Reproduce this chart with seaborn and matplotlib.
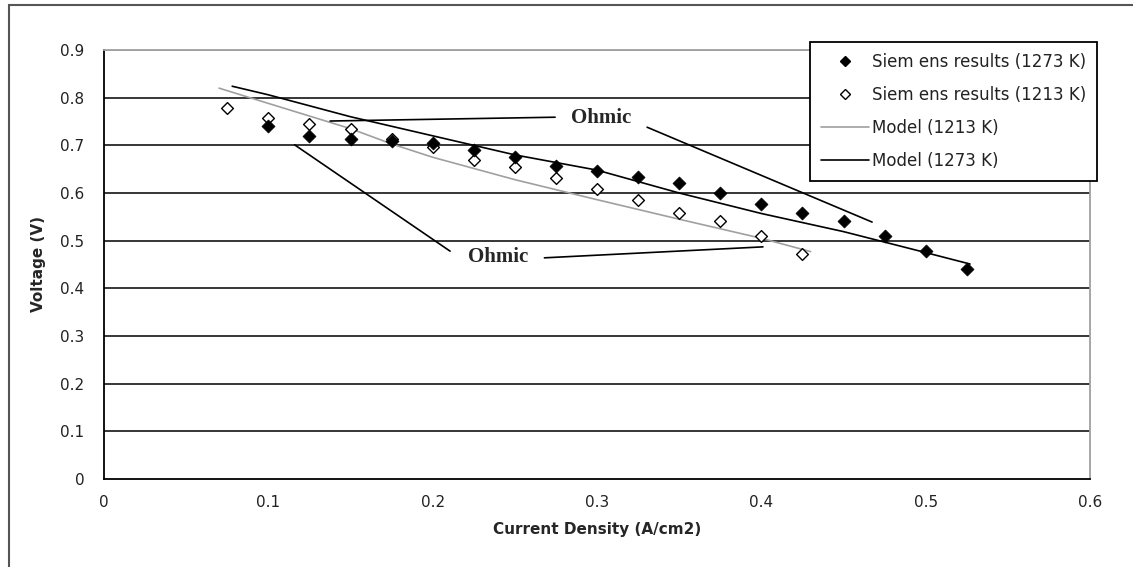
import matplotlib
matplotlib.use("Agg")
import matplotlib.pyplot as plt
import seaborn as sns
import pandas as pd
from matplotlib.patches import Rectangle
from matplotlib.lines import Line2D

# ---- data ----
x_1273 = [0.1, 0.125, 0.15, 0.175, 0.2, 0.225, 0.25, 0.275, 0.3, 0.325, 0.35,
          0.375, 0.4, 0.425, 0.45, 0.475, 0.5, 0.525]
v_1273 = [0.74, 0.72, 0.713, 0.71, 0.705, 0.69, 0.675, 0.657, 0.646, 0.634, 0.621,
          0.60, 0.577, 0.558, 0.541, 0.51, 0.478, 0.44]
x_1213 = [0.075, 0.1, 0.125, 0.15, 0.175, 0.2, 0.225, 0.25, 0.275, 0.3, 0.325,
          0.35, 0.375, 0.4, 0.425]
v_1213 = [0.778, 0.757, 0.745, 0.734, 0.713, 0.697, 0.669, 0.655, 0.632, 0.608,
          0.585, 0.558, 0.541, 0.51, 0.472]
xm_1213 = [0.07, 0.1, 0.15, 0.175, 0.2, 0.25, 0.3, 0.35, 0.4, 0.43]
vm_1213 = [0.82, 0.788, 0.735, 0.703, 0.675, 0.628, 0.586, 0.545, 0.505, 0.477]
xm_1273 = [0.078, 0.1, 0.15, 0.2, 0.25, 0.3, 0.35, 0.4, 0.45, 0.5, 0.527]
vm_1273 = [0.824, 0.806, 0.76, 0.72, 0.68, 0.648, 0.6, 0.557, 0.519, 0.475, 0.451]
x_ticks = [0, 0.1, 0.2, 0.3, 0.4, 0.5, 0.6]
y_ticks = [0, 0.1, 0.2, 0.3, 0.4, 0.5, 0.6, 0.7, 0.8, 0.9]
labels = ["Siem ens results (1273 K)", "Siem ens results (1213 K)",
          "Model (1213 K)", "Model (1273 K)"]

sns.set_style("white")
plt.rcParams['font.family'] = ['DejaVu Sans']

fig = plt.figure(figsize=(11.33, 5.67), dpi=100)
ax = fig.add_axes([104/1133, 1-479/567, (1090-104)/1133, (479-50)/567])

df_a = pd.DataFrame({"x": x_1273, "v": v_1273})
df_b = pd.DataFrame({"x": x_1213, "v": v_1213})
df_c = pd.DataFrame({"x": xm_1213, "v": vm_1213})
df_d = pd.DataFrame({"x": xm_1273, "v": vm_1273})

for yv in y_ticks[1:-1]:
    ax.axhline(yv, color="black", lw=1.1, zorder=0)
ax.axhline(0.9, color="#a0a0a0", lw=1.3, zorder=0)

sns.lineplot(data=df_c, x="x", y="v", ax=ax, color="#a0a0a0", lw=1.2, zorder=2)
sns.lineplot(data=df_d, x="x", y="v", ax=ax, color="black", lw=1.2, zorder=2)
sns.scatterplot(data=df_b, x="x", y="v", ax=ax, marker="D", s=36,
                facecolor="white", edgecolor="black", linewidth=1.0, zorder=3)
sns.scatterplot(data=df_a, x="x", y="v", ax=ax, marker="D", s=44,
                color="black", edgecolor="black", linewidth=0.5, zorder=4)

ax.set_xlim(0, 0.6)
ax.set_ylim(0, 0.9)
ax.set_xticks(x_ticks)
ax.set_xticklabels([f"{t:g}" for t in x_ticks])
ax.set_yticks(y_ticks)
ax.set_yticklabels([f"{t:g}" for t in y_ticks])
ax.tick_params(axis="x", direction="inout", length=7, width=1.1, pad=8, labelsize=11,
               labelcolor="#222222")
ax.tick_params(axis="y", direction="out", length=6, width=1.1, pad=8, labelsize=11,
               labelcolor="#222222")
for s in ["left", "bottom"]:
    ax.spines[s].set_color("black")
    ax.spines[s].set_linewidth(1.3)
for s in ["top", "right"]:
    ax.spines[s].set_color("#a0a0a0")
    ax.spines[s].set_linewidth(1.3)
ax.set_xlabel("Current Density (A/cm2)", fontsize=11, fontweight="bold", labelpad=9)
ax.set_ylabel("Voltage (V)", fontsize=11, fontweight="bold", labelpad=10)

# Ohmic annotations
tfont = dict(family=["Liberation Serif", "DejaVu Serif"], fontsize=15, fontweight="bold")
ax.text(0.3025, 0.757, "Ohmic", ha="center", va="center", **tfont)
ax.text(0.240, 0.466, "Ohmic", ha="center", va="center", **tfont)
ax.plot([0.1376, 0.2745], [0.751, 0.759], color="black", lw=1.2, zorder=2)
ax.plot([0.3305, 0.4674], [0.738, 0.539], color="black", lw=1.2, zorder=2)
ax.plot([0.116, 0.2106], [0.701, 0.478], color="black", lw=1.2, zorder=2)
ax.plot([0.268, 0.401], [0.464, 0.487], color="black", lw=1.2, zorder=2)

handles = [
    Line2D([], [], ls="none", marker="D", color="black", markersize=5.5),
    Line2D([], [], ls="none", marker="D", markerfacecolor="white",
           markeredgecolor="black", markersize=5.5),
    Line2D([], [], color="#a0a0a0", lw=1.2),
    Line2D([], [], color="black", lw=1.2),
]
leg = ax.legend(handles, labels, loc="upper right", bbox_to_anchor=(1097/1133, 1-42/567),
                bbox_transform=fig.transFigure, fontsize=12, frameon=True, fancybox=False,
                edgecolor="black", framealpha=1, borderpad=0.65, labelspacing=0.9,
                handlelength=2.9, handletextpad=0.15, borderaxespad=0)
leg.get_frame().set_linewidth(1.3)
for t in leg.get_texts():
    t.set_color("#222222")

# outer figure frame (cut off at right/bottom)
fig.patches.append(Rectangle((9/1133, -0.2), 2, 1.2 - 5/567, transform=fig.transFigure,
                             fill=False, edgecolor="#555555", lw=1.5))

fig.savefig("out.png", dpi=100)
